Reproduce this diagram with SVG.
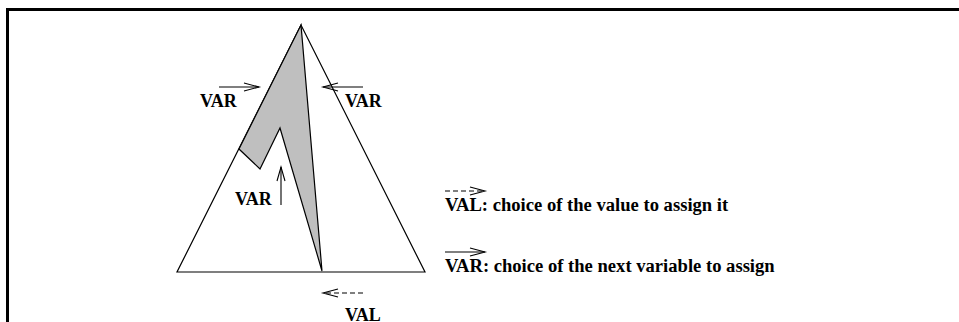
<svg xmlns="http://www.w3.org/2000/svg" width="959" height="322" viewBox="0 0 959 322">
<style>
.lbl{font-family:"Liberation Serif","Times New Roman",serif;font-weight:bold;font-size:18px;fill:#000}
.leg{font-size:18.6px}
.ln{fill:none;stroke:#000;stroke-width:1.2}
.ar{fill:none;stroke:#000;stroke-width:1.1}
.dash{stroke-dasharray:5 3}
</style>
<rect width="959" height="322" fill="#fff"/>
<g id="frame">
<polyline points="7.5,322 7.5,9.5 959,9.5" fill="none" stroke="#000" stroke-width="3"/>
</g>
<g id="tree">
<polygon class="ln" points="301,25 177,272 425,272"/>
</g>
<g id="explored">
<polygon points="301,25 239,149 260,169 280,128 322,271" fill="#bfbfbf" stroke="#000" stroke-width="1.2" stroke-linejoin="miter"/>
</g>
<g id="connectors">
<g id="arrow-var-left">
<line class="ar" x1="219" y1="87" x2="259" y2="87"/>
<polyline class="ar" points="244,83 259,87 244,91"/>
</g>
<g id="arrow-var-right">
<line class="ar" x1="363" y1="87" x2="323" y2="87"/>
<polyline class="ar" points="338,83 323,87 338,91"/>
</g>
<g id="arrow-var-up">
<line class="ar" x1="281" y1="205" x2="281" y2="167"/>
<polyline class="ar" points="277,181 281,167 285,181"/>
</g>
<g id="arrow-val-left">
<line class="ar dash" x1="363" y1="293" x2="325" y2="293"/>
<polyline class="ar" points="338,289 323,293 338,297"/>
</g>
<g id="legend-val-arrow">
<line class="ar dash" x1="445" y1="191" x2="483" y2="191"/>
<polyline class="ar" points="470,187 485,191 470,195"/>
</g>
<g id="legend-var-arrow">
<line class="ar" x1="445" y1="252" x2="485" y2="252"/>
<polyline class="ar" points="470,248 485,252 470,256"/>
</g>
</g>
<g id="labels">
<text class="lbl" x="200" y="107">VAR</text>
<text class="lbl" x="345" y="107">VAR</text>
<text class="lbl" x="235" y="205">VAR</text>
<text class="lbl" x="345" y="321">VAL</text>
<text class="lbl leg" x="445" y="211">VAL: choice of the value to assign it</text>
<text class="lbl leg" x="445" y="272">VAR: choice of the next variable to assign</text>
</g>
</svg>
